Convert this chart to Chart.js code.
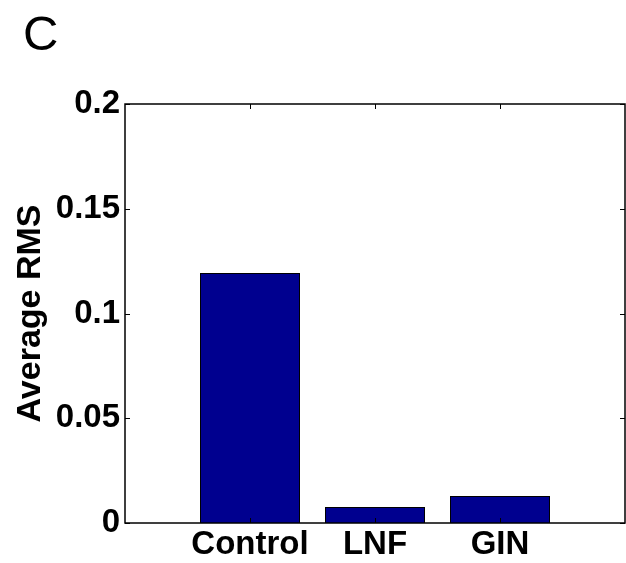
<!DOCTYPE html>
<html>
<head>
<meta charset="utf-8">
<script src="https://cdn.jsdelivr.net/npm/chart.js@4.4.0/dist/chart.umd.min.js"></script>
<style>
  html, body { margin: 0; padding: 0; background: #ffffff; }
  #wrap { width: 626px; height: 563px; position: relative; }
</style>
</head>
<body>
<div id="wrap"><canvas id="c" width="626" height="563"></canvas></div>
<script>
const categories = ['Control', 'LNF', 'GIN'];
const positions = [1, 2, 3];
const averageRMS = [0.1193, 0.0076, 0.0129];
const yTicks = [0, 0.05, 0.1, 0.15, 0.2];
const yTickLabels = ['0', '0.05', '0.1', '0.15', '0.2'];
const panelLabel = 'C';
const yTitle = 'Average RMS';

const FONT = '"Liberation Sans", Arial, Helvetica, sans-serif';

const boxPlugin = {
  id: 'box',
  afterDraw(chart) {
    const ctx = chart.ctx;
    const a = chart.chartArea;
    const xs = chart.scales.x, ys = chart.scales.y;
    ctx.save();
    ctx.strokeStyle = '#000000';
    ctx.lineWidth = 1.5;
    ctx.strokeRect(a.left, a.top, a.right - a.left, a.bottom - a.top);
    ctx.lineWidth = 1;
    const tl = 5;
    ctx.beginPath();
    yTicks.forEach(v => {
      const py = Math.round(ys.getPixelForValue(v)) + 0.5;
      ctx.moveTo(a.left, py); ctx.lineTo(a.left + tl, py);
      ctx.moveTo(a.right, py); ctx.lineTo(a.right - tl, py);
    });
    positions.forEach(v => {
      const px = Math.round(xs.getPixelForValue(v)) + 0.5;
      ctx.moveTo(px, a.bottom); ctx.lineTo(px, a.bottom - tl);
      ctx.moveTo(px, a.top); ctx.lineTo(px, a.top + tl);
    });
    ctx.stroke();
    ctx.fillStyle = '#000000';
    ctx.font = '49px ' + FONT;
    ctx.textBaseline = 'alphabetic';
    ctx.textAlign = 'left';
    ctx.fillText(panelLabel, 23, 50);
    ctx.restore();
  }
};

new Chart(document.getElementById('c'), {
  type: 'bar',
  data: {
    datasets: [{
      data: positions.map((p, i) => ({ x: p, y: averageRMS[i] })),
      backgroundColor: '#00008f',
      borderColor: '#000000',
      borderWidth: 1,
      barPercentage: 0.8,
      categoryPercentage: 1.0
    }]
  },
  options: {
    responsive: false,
    animation: false,
    layout: { padding: { top: 104, right: 1, left: 0, bottom: 0 } },
    plugins: { legend: { display: false }, tooltip: { enabled: false } },
    scales: {
      x: {
        type: 'linear',
        min: 0,
        max: 4,
        offset: false,
        grid: { display: false, drawTicks: false },
        border: { display: false },
        afterBuildTicks(scale) { scale.ticks = positions.map(v => ({ value: v })); },
        afterFit(scale) { scale.height = 40; },
        ticks: {
          autoSkip: false,
          maxRotation: 0,
          padding: 2,
          color: '#000000',
          font: { family: FONT, size: 33, weight: 'bold' },
          callback(v) { const i = positions.indexOf(v); return i >= 0 ? categories[i] : ''; }
        }
      },
      y: {
        min: 0,
        max: 0.2,
        grid: { display: false, drawTicks: false },
        border: { display: false },
        afterBuildTicks(scale) { scale.ticks = yTicks.map(v => ({ value: v })); },
        afterFit(scale) { scale.width = 125; },
        ticks: {
          padding: 5,
          color: '#000000',
          font: { family: FONT, size: 33, weight: 'bold' },
          callback(v) { const i = yTicks.indexOf(v); return i >= 0 ? yTickLabels[i] : ''; }
        },
        title: {
          display: true,
          text: yTitle,
          color: '#000000',
          padding: { top: 10, bottom: 8 },
          font: { family: FONT, size: 34, weight: 'bold' }
        }
      }
    }
  },
  plugins: [boxPlugin]
});
</script>
</body>
</html>
